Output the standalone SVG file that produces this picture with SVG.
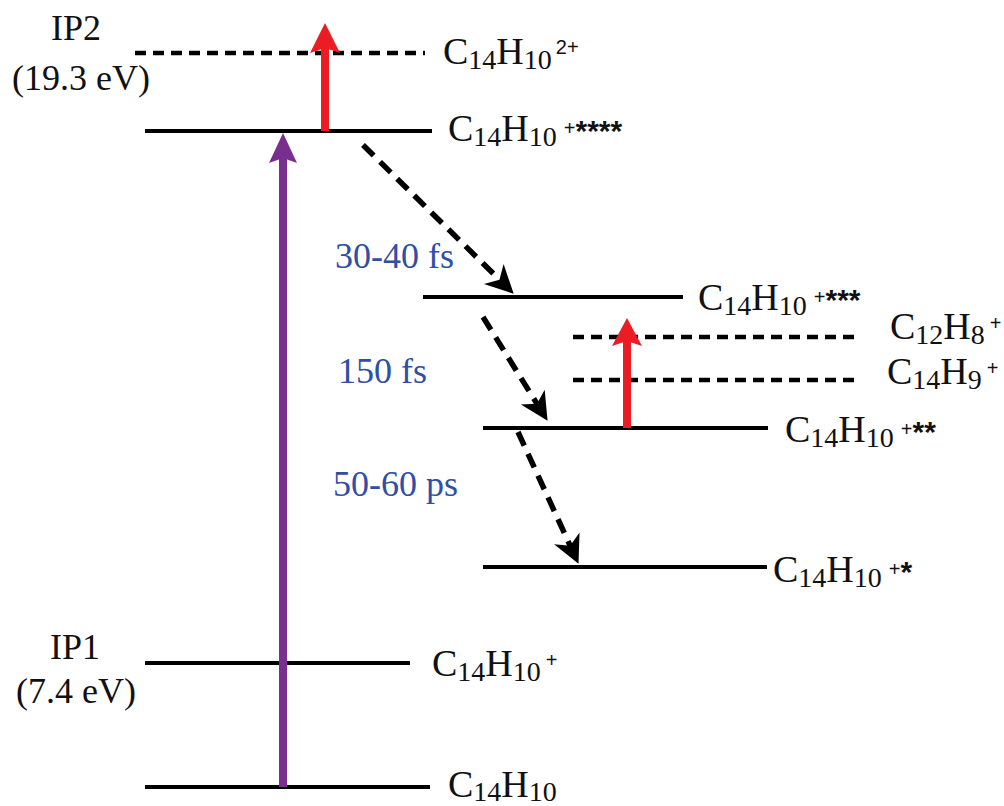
<svg xmlns="http://www.w3.org/2000/svg" width="1004" height="806" viewBox="0 0 1004 806">
<style>
.lvl{stroke:#000;stroke-width:4;fill:none}
.dash{stroke:#000;stroke-width:4.5;stroke-dasharray:11 7;fill:none}
.f{font-family:"Liberation Serif",serif;font-size:38px;fill:#111}
.sub{font-size:28px}
.sup{font-family:"Liberation Sans",sans-serif;font-size:20px}
.ast{font-family:"Liberation Sans",sans-serif;font-size:30px;font-weight:bold}
.ip{font-family:"Liberation Serif",serif;font-size:36px;fill:#111;text-anchor:middle}
.t{font-family:"Liberation Serif",serif;font-size:36px;fill:#2f4ea6}
.dar{stroke:#000;stroke-width:5.5;stroke-dasharray:15 9;fill:none;marker-end:url(#bh)}
.red{stroke:#ec1c24;stroke-width:8;fill:none}
.redh{fill:#ec1c24}
.pur{stroke:#782f8f;stroke-width:8;fill:none}
.purh{fill:#782f8f}
</style>
<defs>
<marker id="bh" markerUnits="userSpaceOnUse" orient="auto" refX="0" refY="0" markerWidth="40" markerHeight="40" overflow="visible">
<path d="M17,0 L-11,-14 L-3,0 L-11,14 Z" fill="#000"/>
</marker>
</defs>

<g id="ip2-labels">
<text class="ip" x="76" y="40">IP2</text>
<text class="ip" x="81" y="90">(19.3 eV)</text>
</g>
<g id="ip1-labels">
<text class="ip" x="75" y="659">IP1</text>
<text class="ip" x="76" y="703">(7.4 eV)</text>
</g>

<g id="dication">
<line class="dash" x1="135" y1="53" x2="425" y2="53"/>
<text class="f" x="443" y="64">C<tspan class="sub" dy="5">14</tspan><tspan dy="-5">H</tspan><tspan class="sub" dy="5">10</tspan><tspan class="sup" dx="4" dy="-15">2+</tspan></text>
</g>

<g id="level4">
<line class="lvl" x1="145" y1="131" x2="432" y2="131"/>
<text class="f" x="448" y="141">C<tspan class="sub" dy="5">14</tspan><tspan dy="-5">H</tspan><tspan class="sub" dy="5">10</tspan><tspan class="sup" dx="7" dy="-11">+</tspan><tspan class="ast" dy="6">****</tspan></text>
</g>

<g id="level3">
<line class="lvl" x1="423" y1="297" x2="683" y2="297"/>
<text class="f" x="698" y="310">C<tspan class="sub" dy="5">14</tspan><tspan dy="-5">H</tspan><tspan class="sub" dy="5">10</tspan><tspan class="sup" dx="7" dy="-11">+</tspan><tspan class="ast" dy="6">***</tspan></text>
</g>

<g id="frag-c12h8">
<line class="dash" x1="573" y1="337" x2="858" y2="337"/>
<text class="f" x="890" y="339">C<tspan class="sub" dy="5">12</tspan><tspan dy="-5">H</tspan><tspan class="sub" dy="5">8</tspan><tspan class="sup" dx="5" dy="-14">+</tspan></text>
</g>

<g id="frag-c14h9">
<line class="dash" x1="573" y1="380" x2="858" y2="380"/>
<text class="f" x="887" y="384">C<tspan class="sub" dy="5">14</tspan><tspan dy="-5">H</tspan><tspan class="sub" dy="5">9</tspan><tspan class="sup" dx="5" dy="-14">+</tspan></text>
</g>

<g id="level2">
<line class="lvl" x1="483" y1="428" x2="768" y2="428"/>
<text class="f" x="785" y="442">C<tspan class="sub" dy="5">14</tspan><tspan dy="-5">H</tspan><tspan class="sub" dy="5">10</tspan><tspan class="sup" dx="7" dy="-11">+</tspan><tspan class="ast" dy="6">**</tspan></text>
</g>

<g id="level1">
<line class="lvl" x1="483" y1="567" x2="767" y2="567"/>
<text class="f" x="773" y="582">C<tspan class="sub" dy="5">14</tspan><tspan dy="-5">H</tspan><tspan class="sub" dy="5">10</tspan><tspan class="sup" dx="7" dy="-11">+</tspan><tspan class="ast" dy="6">*</tspan></text>
</g>

<g id="cation">
<line class="lvl" x1="145" y1="663" x2="410" y2="663"/>
<text class="f" x="432" y="676">C<tspan class="sub" dy="5">14</tspan><tspan dy="-5">H</tspan><tspan class="sub" dy="5">10</tspan><tspan class="sup" dx="5" dy="-14">+</tspan></text>
</g>

<g id="neutral">
<line class="lvl" x1="145" y1="787" x2="430" y2="787"/>
<text class="f" x="448" y="797">C<tspan class="sub" dy="4">14</tspan><tspan dy="-4">H</tspan><tspan class="sub" dy="4">10</tspan></text>
</g>

<g id="timescales">
<text class="t" x="335" y="268">30-40 fs</text>
<text class="t" x="338" y="383">150 fs</text>
<text class="t" x="333" y="496">50-60 ps</text>
</g>

<g id="connectors">
<line class="pur" x1="283" y1="787" x2="283" y2="158"/>
<path class="purh" d="M283,133 L297,163 L283,158 L269,163 Z"/>
<line class="red" x1="325" y1="131" x2="325" y2="48"/>
<path class="redh" d="M325,23 L340,53 L325,48 L310,53 Z"/>
<line class="red" x1="627" y1="428" x2="627" y2="341"/>
<path class="redh" d="M627,318 L642,346 L627,341 L612,346 Z"/>
<line class="dar" x1="363" y1="145" x2="501.6" y2="281.8"/>
<line class="dar" x1="483" y1="317" x2="538.6" y2="406.4"/>
<line class="dar" x1="518" y1="432" x2="571.4" y2="548.4"/>
</g>
</svg>
